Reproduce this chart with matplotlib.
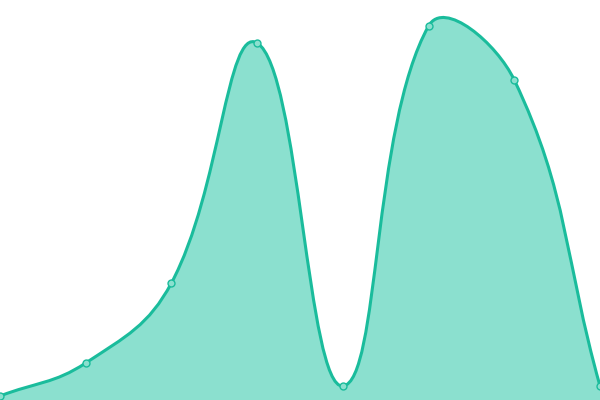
import numpy as np
import matplotlib.pyplot as plt
from matplotlib.path import Path
from matplotlib.patches import PathPatch

# valores de la serie
cats = np.arange(8)
vals = [4, 37, 117, 357, 14, 374, 320, 14]

line_col = '#1abc9c'
fill_col = '#8be0cf'

fig = plt.figure(figsize=(6, 4), dpi=100)
ax = fig.add_axes([0, 0, 1, 1])
ax.set_xlim(0, 7)
ax.set_ylim(0, 400)
ax.axis('off')

# suavizado tipo bezier (calculado en pixeles)
sx = 600 / 7.0
pts = np.column_stack([cats * sx, np.array(vals, dtype=float)])
smooth = 0.42
n = len(pts)
cps = []
for i in range(n):
    prev = pts[max(i - 1, 0)]
    nxt = pts[min(i + 1, n - 1)]
    cur = pts[i]
    v = nxt - prev
    d0 = np.hypot(*(cur - prev))
    d1 = np.hypot(*(nxt - cur))
    s = d0 + d1
    if s == 0:
        cps.append((cur, cur))
        continue
    cps.append((cur - v * smooth * d0 / s, cur + v * smooth * d1 / s))

verts = [pts[0]]
codes = [Path.MOVETO]
for i in range(n - 1):
    verts += [cps[i][1], cps[i + 1][0], pts[i + 1]]
    codes += [Path.CURVE4] * 3
verts = np.array(verts)
verts[:, 0] /= sx

line_path = Path(verts, codes)
fill_verts = np.vstack([verts, [[verts[-1, 0], 0], [verts[0, 0], 0], verts[0]]])
fill_codes = codes + [Path.LINETO, Path.LINETO, Path.CLOSEPOLY]
ax.add_patch(PathPatch(Path(fill_verts, fill_codes), facecolor=fill_col, edgecolor='none'))
ax.add_patch(PathPatch(line_path, facecolor='none', edgecolor=line_col, lw=2.2))

ax.plot(cats, vals, 'o', ms=5, mfc=fill_col, mec=line_col, mew=1, clip_on=False)

fig.savefig('out.png')
